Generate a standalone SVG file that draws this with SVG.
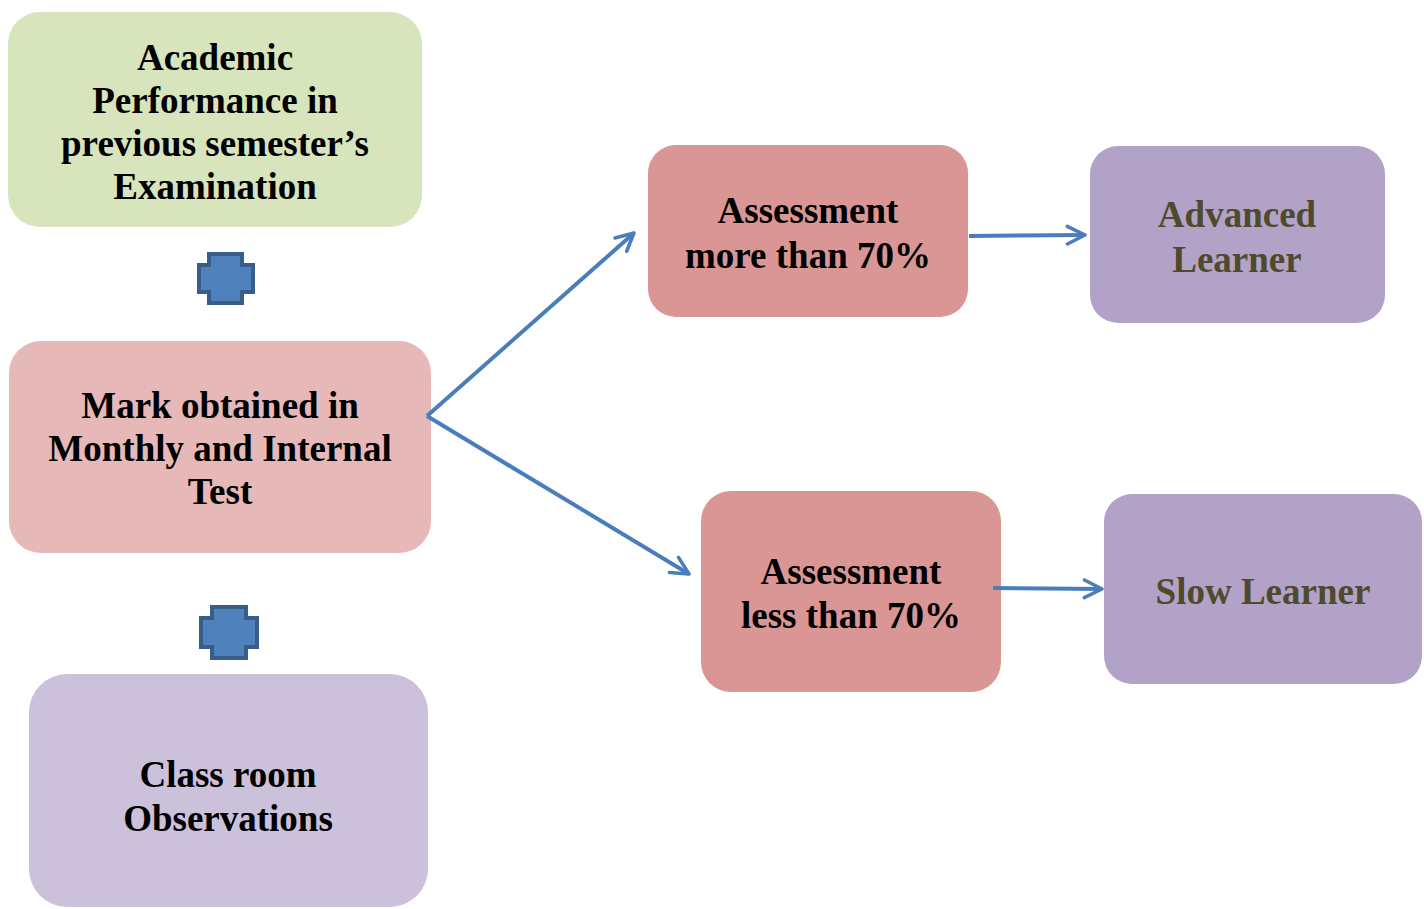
<svg xmlns="http://www.w3.org/2000/svg" width="1424" height="909" viewBox="0 0 1424 909">
<style>
text{font-family:"Liberation Serif","Times New Roman",serif;font-weight:bold;font-size:37px;text-anchor:middle;fill:#000}
.dk{fill:#4f4a2c}
.plus{fill:#4f81bd;stroke:#385d8a;stroke-width:4}
.con{stroke:#4a7ebb;stroke-width:4;fill:none;marker-end:url(#arr)}
</style>
<defs>
<marker id="arr" viewBox="0 0 10 10" refX="9" refY="5" markerWidth="5.5" markerHeight="5.5" orient="auto" markerUnits="strokeWidth">
<path d="M1,1 L9,5 L1,9" fill="none" stroke="#4a7ebb" stroke-width="1.6" stroke-linecap="round" stroke-linejoin="round"/>
</marker>
</defs>
<rect width="1424" height="909" fill="#fff"/>
<g id="academic">
<rect x="8" y="12" width="414" height="215" rx="32" fill="#d7e4bc"/>
<text x="215" y="70">Academic</text>
<text x="215" y="113">Performance in</text>
<text x="215" y="156">previous semester’s</text>
<text x="215" y="199">Examination</text>
</g>
<g id="plus1"><path class="plus" d="M209,254 H242 V265 H253 V292 H242 V303 H209 V292 H199 V265 H209 Z"/></g>
<g id="mark">
<rect x="9" y="341" width="422" height="212" rx="32" fill="#e6b8b7"/>
<text x="220" y="418">Mark obtained in</text>
<text x="220" y="461">Monthly and Internal</text>
<text x="220" y="504">Test</text>
</g>
<g id="plus2"><path class="plus" d="M212,607 H246 V618 H257 V647 H246 V658 H212 V647 H201 V618 H212 Z"/></g>
<g id="classroom">
<rect x="29" y="674" width="399" height="233" rx="38" fill="#ccc1da"/>
<text x="228" y="787">Class room</text>
<text x="228" y="831">Observations</text>
</g>
<g id="more">
<rect x="648" y="145" width="320" height="172" rx="28" fill="#d99694"/>
<text x="808" y="223">Assessment</text>
<text x="808" y="268">more than 70%</text>
</g>
<g id="advanced">
<rect x="1090" y="146" width="295" height="177" rx="28" fill="#b2a2c7"/>
<text class="dk" x="1237" y="227">Advanced</text>
<text class="dk" x="1237" y="272">Learner</text>
</g>
<g id="less">
<rect x="701" y="491" width="300" height="201" rx="30" fill="#d99694"/>
<text x="851" y="584">Assessment</text>
<text x="851" y="628">less than 70%</text>
</g>
<g id="slow">
<rect x="1104" y="494" width="318" height="190" rx="28" fill="#b2a2c7"/>
<text class="dk" x="1263" y="604">Slow Learner</text>
</g>
<g id="connectors">
<line class="con" x1="427" y1="416" x2="634" y2="233"/>
<line class="con" x1="427" y1="416" x2="689" y2="574"/>
<line class="con" x1="969" y1="236" x2="1085" y2="235"/>
<line class="con" x1="993" y1="588" x2="1102" y2="589"/>
</g>
</svg>
